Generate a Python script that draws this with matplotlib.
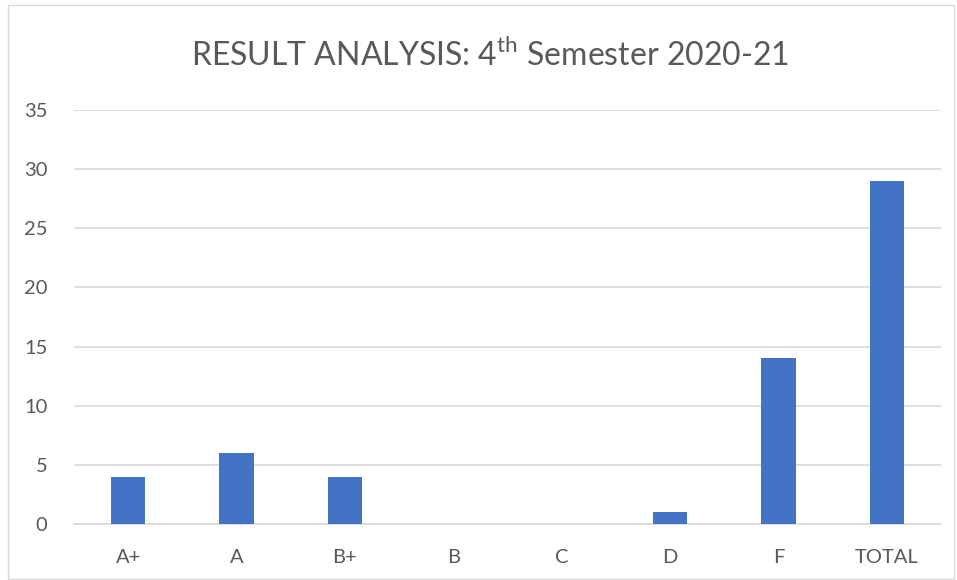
import matplotlib.pyplot as plt
from matplotlib.patches import Rectangle

# Result analysis data
grades = ['A+', 'A', 'B+', 'B', 'C', 'D', 'F', 'TOTAL']
students = [4, 6, 4, 0, 0, 1, 14, 29]

plt.rcParams['font.family'] = 'Lato'
plt.rcParams['mathtext.fontset'] = 'custom'
plt.rcParams['mathtext.rm'] = 'Lato'

fig = plt.figure(figsize=(9.57, 5.8), dpi=100)
ax = fig.add_axes([74 / 957, 1 - 524 / 580, (941 - 74) / 957, (524 - 110) / 580])

x = range(len(grades))
ax.bar(x, students, width=0.315, color='#4472C4', zorder=3)

ax.set_xlim(-0.5, len(grades) - 0.5)
ax.set_ylim(0, 35)
ax.set_yticks(range(0, 36, 5))
ax.set_xticks(list(x))
ax.set_xticklabels(grades)
ax.grid(axis='y', color='#D9D9D9', linewidth=1.2, zorder=0)
for s in ['top', 'right', 'left']:
    ax.spines[s].set_visible(False)
ax.spines['bottom'].set_color('#D9D9D9')
ax.spines['bottom'].set_linewidth(1.2)
ax.tick_params(length=0, labelsize=14.5, colors='#595959')
ax.tick_params(axis='x', pad=18)
ax.tick_params(axis='y', pad=19)

fig.text(0.512, 1 - 55 / 580, r'RESULT ANALYSIS: 4$^{\mathrm{th}}$ Semester 2020-21',
         ha='center', va='center', fontsize=23, color='#595959')

# chart border
fig.patches.append(Rectangle((8 / 957, 0.002), 946 / 957, 0.99, transform=fig.transFigure,
                             fill=False, edgecolor='#D9D9D9', linewidth=1))

plt.savefig('out.png', dpi=100)
